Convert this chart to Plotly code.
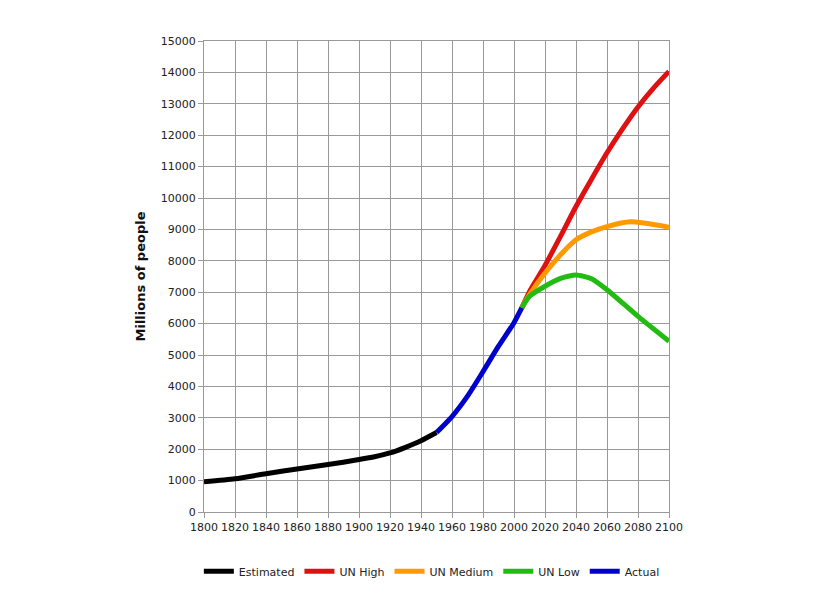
import plotly.graph_objects as go

# Data (millions of people)
est_years = [1800, 1820, 1840, 1860, 1880, 1900, 1910, 1920, 1930, 1940, 1950]
est_vals = [960, 1060, 1220, 1370, 1510, 1670, 1760, 1880, 2060, 2270, 2530]

act_years = [1950, 1960, 1970, 1980, 1990, 2000, 2005]
act_vals = [2530, 3040, 3690, 4470, 5280, 6030, 6500]

proj_years = [2005, 2010, 2020, 2030, 2040, 2050, 2060, 2070, 2080, 2090, 2100]
high_vals = [6500, 7020, 7850, 8780, 9730, 10600, 11440, 12200, 12900, 13500, 14030]

med_years = [2005, 2010, 2020, 2030, 2040, 2050, 2060, 2075, 2100]
med_vals = [6500, 6920, 7610, 8190, 8670, 8920, 9090, 9240, 9070]

low_years = [2005, 2010, 2020, 2030, 2040, 2050, 2060, 2080, 2100]
low_vals = [6500, 6870, 7190, 7440, 7550, 7430, 7080, 6230, 5440]

x_ticks = list(range(1800, 2101, 20))
y_ticks = list(range(0, 15001, 1000))

fig = go.Figure()
lw = 5
fig.add_trace(go.Scatter(x=est_years, y=est_vals, mode="lines", name="Estimated",
                         line=dict(color="#000000", width=lw, shape="spline", smoothing=0.6)))
fig.add_trace(go.Scatter(x=proj_years, y=high_vals, mode="lines", name="UN High",
                         line=dict(color="#dd1111", width=lw, shape="spline", smoothing=0.6)))
fig.add_trace(go.Scatter(x=med_years, y=med_vals, mode="lines", name="UN Medium",
                         line=dict(color="#ff9900", width=lw, shape="spline", smoothing=0.6)))
fig.add_trace(go.Scatter(x=low_years, y=low_vals, mode="lines", name="UN Low",
                         line=dict(color="#22bb11", width=lw, shape="spline", smoothing=0.6)))
fig.add_trace(go.Scatter(x=act_years, y=act_vals, mode="lines", name="Actual",
                         line=dict(color="#0000cc", width=lw, shape="spline", smoothing=0.6)))

axis_common = dict(showgrid=True, gridcolor="#999999", gridwidth=1,
                   showline=True, linecolor="#999999", linewidth=1, mirror=True,
                   ticks="outside", ticklen=5, tickcolor="#999999",
                   tickfont=dict(family="DejaVu Sans", size=11, color="#222222"),
                   zeroline=False, automargin=False)

fig.update_layout(
    width=804, height=583,
    margin=dict(l=196, r=143, t=33, b=79, autoexpand=False),
    paper_bgcolor="white", plot_bgcolor="white",
    xaxis=dict(range=[1800, 2100], tickvals=x_ticks, ticktext=[str(v) for v in x_ticks], **axis_common),
    yaxis=dict(range=[0, 15000], tickvals=y_ticks, ticktext=[str(v) for v in y_ticks],
               title=dict(text="<b>Millions of people</b>", font=dict(family="DejaVu Sans", size=13, color="#111111"),
                          standoff=12),
               **axis_common),
    legend=dict(orientation="h", x=0.49, xanchor="center", y=-0.095, yanchor="top",
                font=dict(family="DejaVu Sans", size=11, color="#222222"),
                bgcolor="rgba(0,0,0,0)", itemwidth=30, tracegroupgap=0),
    showlegend=True,
)

fig.write_html("out.html")
